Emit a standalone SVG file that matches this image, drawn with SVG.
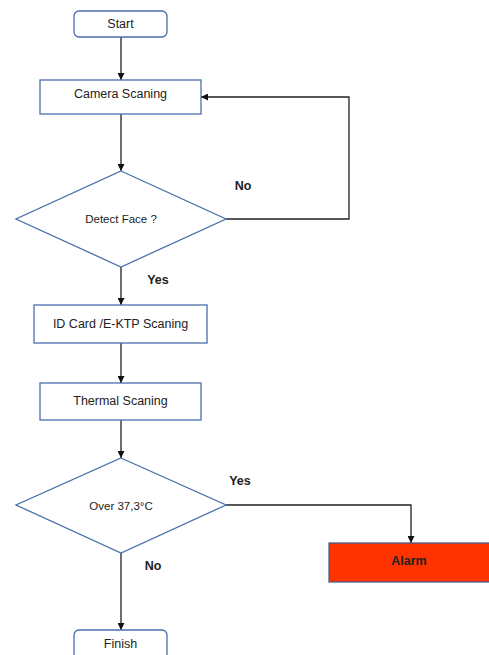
<svg xmlns="http://www.w3.org/2000/svg" width="489" height="655" viewBox="0 0 489 655">
<defs>
<style>
.box{fill:#fff;stroke:#4a6fae;stroke-width:1.3}
.t{font-family:"Liberation Sans",Arial,sans-serif;font-size:12.5px;fill:#222;text-anchor:middle}
.s{font-size:11.5px}
.b{font-weight:bold}
.c{fill:none;stroke:#222;stroke-width:1.3}
</style>
<marker id="ah" viewBox="0 0 10 10" refX="10" refY="5" markerWidth="7" markerHeight="7" orient="auto" markerUnits="userSpaceOnUse"><path d="M0,0L10,5L0,10z" fill="#111"/></marker>
</defs>
<rect width="489" height="655" fill="#fff"/>
<g id="connectors">
<path class="c" d="M121,37V80" marker-end="url(#ah)"/>
<path class="c" d="M121,114V171" marker-end="url(#ah)"/>
<path class="c" d="M226,219H349V97H201" marker-end="url(#ah)"/>
<path class="c" d="M121,267V305" marker-end="url(#ah)"/>
<path class="c" d="M121,343V383" marker-end="url(#ah)"/>
<path class="c" d="M121,420V458" marker-end="url(#ah)"/>
<path class="c" d="M226,505H411V543" marker-end="url(#ah)"/>
<path class="c" d="M121,553V630" marker-end="url(#ah)"/>
<text class="t b" x="243" y="190">No</text>
<text class="t b" x="158" y="284">Yes</text>
<text class="t b" x="240" y="485">Yes</text>
<text class="t b" x="153" y="570">No</text>
</g>
<g id="start"><rect class="box" x="74" y="11" width="93" height="26" rx="5"/><text class="t" x="120.5" y="28">Start</text></g>
<g id="camera"><rect class="box" x="40" y="80" width="161" height="34"/><text class="t" x="120.5" y="98">Camera Scaning</text></g>
<g id="detect"><polygon class="box" points="121,171 226,219 121,267 16,219"/><text class="t s" x="121" y="223">Detect Face ?</text></g>
<g id="idcard"><rect class="box" x="34" y="305" width="173" height="38"/><text class="t" x="120.5" y="328">ID Card /E-KTP Scaning</text></g>
<g id="thermal"><rect class="box" x="40" y="383" width="161" height="37"/><text class="t" x="120.5" y="405">Thermal Scaning</text></g>
<g id="over"><polygon class="box" points="121,458 226,505 121,553 16,505"/><text class="t s" x="121" y="510">Over 37,3°C</text></g>
<g id="alarm"><rect x="329" y="543" width="162" height="39" fill="#ff3300" stroke="#3b5a8c" stroke-width="1.2"/><text class="t b" x="409" y="565" fill="#111">Alarm</text></g>
<g id="finish"><rect class="box" x="74" y="630" width="93" height="30" rx="5"/><text class="t" x="120.5" y="648">Finish</text></g>
</svg>
